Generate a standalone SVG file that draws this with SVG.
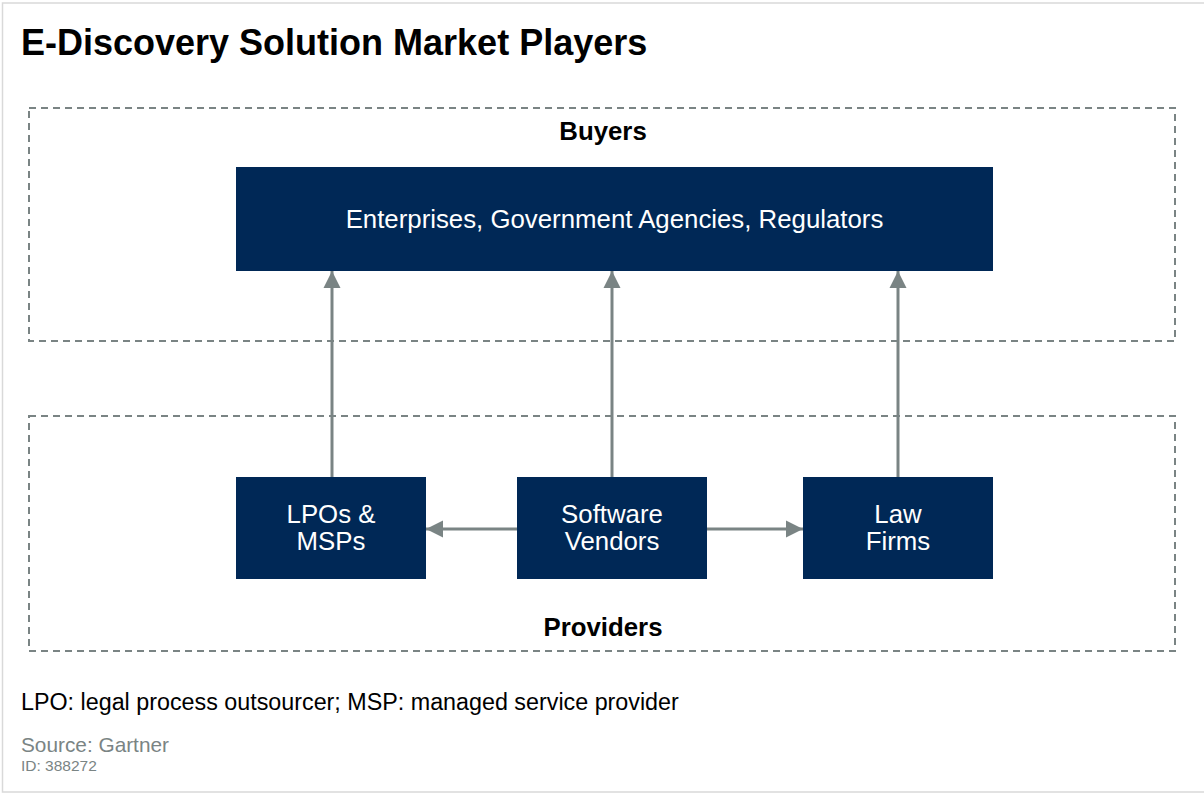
<svg xmlns="http://www.w3.org/2000/svg" width="1204" height="794" viewBox="0 0 1204 794">
  <style>
    .frame { fill: #ffffff; stroke: #d9d9d9; stroke-width: 1.5; }
    .zone { fill: none; stroke: #7a8484; stroke-width: 2; stroke-dasharray: 7 5; }
    .box { fill: #002856; }
    .boxtxt { font-family: "Liberation Sans", Arial, sans-serif; font-size: 25.8px; fill: #ffffff; text-anchor: middle; }
    .zonelbl { font-family: "Liberation Sans", Arial, sans-serif; font-size: 25.8px; font-weight: bold; fill: #000000; text-anchor: middle; }
    .link { stroke: #7a8484; stroke-width: 3; fill: none; marker-end: url(#head); }
  </style>
  <defs>
    <marker id="head" viewBox="0 0 10 10" refX="10" refY="5" markerUnits="userSpaceOnUse" markerWidth="17" markerHeight="25" orient="auto">
      <path d="M0,0 L10,5 L0,10 Z" fill="#7a8484"/>
    </marker>
  </defs>

  <rect class="frame" x="2.5" y="3" width="1210" height="789"/>

  <text x="21" y="55" font-family="Liberation Sans, Arial, sans-serif" font-size="36" font-weight="bold" fill="#000">E-Discovery Solution Market Players</text>

  <!-- zones -->
  <g id="buyers-zone">
    <rect class="zone" x="29" y="108" width="1146" height="233"/>
    <text class="zonelbl" x="603" y="140">Buyers</text>
  </g>
  <g id="providers-zone">
    <rect class="zone" x="29" y="416" width="1146" height="235"/>
    <text class="zonelbl" x="603" y="636">Providers</text>
  </g>

  <!-- connectors -->
  <g id="connectors">
    <line class="link" x1="332" y1="477" x2="332" y2="271"/>
    <line class="link" x1="612" y1="477" x2="612" y2="271"/>
    <line class="link" x1="898" y1="477" x2="898" y2="271"/>
    <line class="link" x1="517" y1="529" x2="426" y2="529"/>
    <line class="link" x1="707" y1="529" x2="803" y2="529"/>
  </g>

  <!-- nodes -->
  <g id="buyers">
    <rect class="box" x="236" y="167" width="757" height="104"/>
    <text class="boxtxt" x="614.5" y="228">Enterprises, Government Agencies, Regulators</text>
  </g>
  <g id="lpos-msps">
    <rect class="box" x="236" y="477" width="190" height="102"/>
    <text class="boxtxt" x="331" y="523">LPOs &amp;</text>
    <text class="boxtxt" x="331" y="550">MSPs</text>
  </g>
  <g id="software-vendors">
    <rect class="box" x="517" y="477" width="190" height="102"/>
    <text class="boxtxt" x="612" y="523">Software</text>
    <text class="boxtxt" x="612" y="550">Vendors</text>
  </g>
  <g id="law-firms">
    <rect class="box" x="803" y="477" width="190" height="102"/>
    <text class="boxtxt" x="898" y="523">Law</text>
    <text class="boxtxt" x="898" y="550">Firms</text>
  </g>

  <!-- notes -->
  <text x="21" y="710" font-family="Liberation Sans, Arial, sans-serif" font-size="23.3" fill="#000">LPO: legal process outsourcer; MSP: managed service provider</text>
  <text x="21" y="752" font-family="Liberation Sans, Arial, sans-serif" font-size="20.8" fill="#7a8484">Source: Gartner</text>
  <text x="21" y="771" font-family="Liberation Sans, Arial, sans-serif" font-size="15.5" fill="#7a8484">ID: 388272</text>
</svg>
